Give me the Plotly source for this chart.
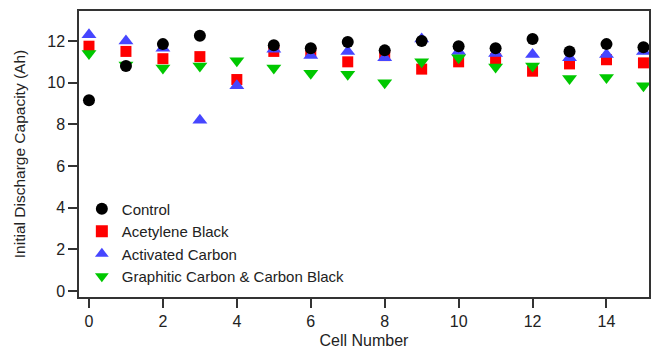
import plotly.graph_objects as go

cells = list(range(16))
control = [9.15, 10.8, 11.85, 12.25, None, 11.8, 11.65, 11.95, 11.55, 12.0, 11.75, 11.65, 12.1, 11.5, 11.85, 11.7]
acetylene = [11.75, 11.5, 11.15, 11.25, 10.15, 11.5, 11.45, 11.0, 11.3, 10.65, 11.0, 11.15, 10.55, 10.9, 11.1, 10.95]
activated = [12.3, 12.0, 11.65, 8.2, 9.85, 11.6, 11.3, 11.5, 11.2, 12.1, 11.5, 11.4, 11.35, 11.2, 11.35, 11.5]
graphitic = [11.4, 10.85, 10.7, 10.8, 11.05, 10.7, 10.45, 10.4, 10.0, 11.0, 11.2, 10.75, 10.8, 10.2, 10.25, 9.85]

names = ["Control", "Acetylene Black", "Activated Carbon", "Graphitic Carbon & Carbon Black"]

fig = go.Figure()
# draw order: red, blue, green, black (legend order set via legendrank)
fig.add_trace(go.Scatter(x=cells, y=acetylene, mode="markers", name=names[1], legendrank=2,
                         marker=dict(symbol="square", size=11, color="#ff0000")))
fig.add_trace(go.Scatter(x=cells, y=activated, mode="markers", name=names[2], legendrank=3,
                         marker=dict(symbol="triangle-up", size=13, color="#4646ff")))
fig.add_trace(go.Scatter(x=cells, y=graphitic, mode="markers", name=names[3], legendrank=4,
                         marker=dict(symbol="triangle-down", size=13, color="#00c800")))
fig.add_trace(go.Scatter(x=cells, y=control, mode="markers", name=names[0], legendrank=1,
                         marker=dict(symbol="circle", size=12, color="#000000")))

font = "Liberation Sans, Arial, sans-serif"
fig.update_layout(
    width=652, height=356,
    margin=dict(l=79, r=1, t=11, b=59),
    paper_bgcolor="white", plot_bgcolor="white",
    font=dict(family=font, size=16, color="#222"),
    showlegend=True,
    legend=dict(x=0.005, y=0.365, xanchor="left", yanchor="top", bgcolor="rgba(0,0,0,0)",
                font=dict(size=15), itemsizing="constant", tracegroupgap=0),
    xaxis=dict(range=[-0.27, 15.15], tickvals=[0, 2, 4, 6, 8, 10, 12, 14],
               showgrid=False, zeroline=False, showline=True, linecolor="#333", linewidth=1.5,
               mirror=True, ticks="outside", ticklen=9, tickwidth=1.5, tickcolor="#333",
               tickfont=dict(size=16),
               title=dict(text="Cell Number", font=dict(size=16), standoff=6)),
    yaxis=dict(range=[-0.29, 13.44], tickvals=[0, 2, 4, 6, 8, 10, 12],
               showgrid=False, zeroline=False, showline=True, linecolor="#333", linewidth=1.5,
               mirror=True, ticks="outside", ticklen=9, tickwidth=1.5, tickcolor="#333",
               tickfont=dict(size=16),
               title=dict(text="Initial Discharge Capacity (Ah)", font=dict(size=15.5), standoff=18)),
)

fig.write_html("out.html", config={"displayModeBar": False},
               post_script="document.body.style.margin='0';document.body.style.overflow='hidden';")
